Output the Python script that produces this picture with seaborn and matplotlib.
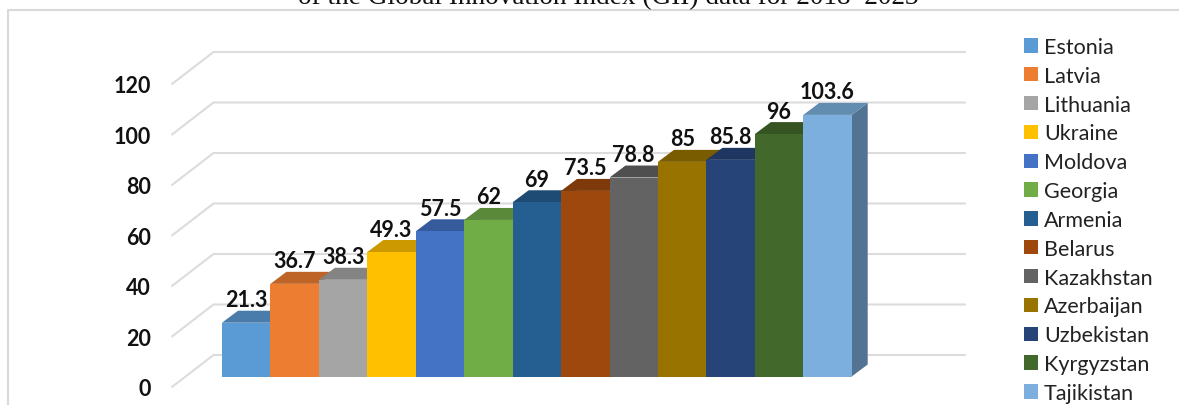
import matplotlib
matplotlib.use("Agg")
import matplotlib.pyplot as plt
import matplotlib.colors as mc
from matplotlib.lines import Line2D
from matplotlib.transforms import ScaledTranslation
import seaborn as sns
import pandas as pd

countries = ["Estonia", "Latvia", "Lithuania", "Ukraine", "Moldova", "Georgia", "Armenia",
             "Belarus", "Kazakhstan", "Azerbaijan", "Uzbekistan", "Kyrgyzstan", "Tajikistan"]
values = [21.3, 36.7, 38.3, 49.3, 57.5, 62, 69, 73.5, 78.8, 85, 85.8, 96, 103.6]
colors = ["#5B9BD5", "#ED7D31", "#A5A5A5", "#FFC000", "#4472C4", "#70AD47", "#255E91",
          "#9E480E", "#636363", "#997300", "#264478", "#43682B", "#7CAFDD"]
y_ticks = [0, 20, 40, 60, 80, 100, 120]
title = "of the Global Innovation Index (GII) data for 2018\u20132023"

W, H = 1179, 406
sns.set_theme(style="white")
plt.rcParams["font.family"] = ["Lato", "DejaVu Sans"]
fig = plt.figure(figsize=(W / 100, H / 100), dpi=100)

# Axes box in pixels: the front plane of the bars
left, right, base, ppu = 222.0, 851.7, 377.5, 2.525
ymax = 140
ax = fig.add_axes([left / W, (H - base) / H, (right - left) / W, ymax * ppu / H])

df = pd.DataFrame({"country": countries, "value": values})
sns.barplot(data=df, x="country", y="value", hue="country", palette=colors, width=1,
            dodge=False, legend=True, saturation=1, order=countries, hue_order=countries,
            ax=ax, zorder=3, linewidth=0)
ax.set_xlim(-0.5, 12.5)
ax.set_ylim(0, ymax)
ax.set_xlabel("")
ax.set_ylabel("")
ax.set_xticks([])
sns.despine(ax=ax, left=True, bottom=True)
ax.patch.set_alpha(0)

# Pseudo-3D depth, converted from pixels to data units
ppx = (right - left) / 13
DX, DY = 16 / ppx, 12 / ppu


def shade(c, f):
    r, g, b = mc.to_rgb(c)
    return (r * f, g * f, b * f)


for i, (v, c) in enumerate(zip(values, colors)):
    ax.fill([i - .5, i + .5, i + .5 + DX, i - .5 + DX], [v, v, v + DY, v + DY],
            color=shade(c, 0.8), lw=0, zorder=2 + i * 0.01, clip_on=False)
last, lv = len(values) - 1, values[-1]
ax.fill([last + .5, last + .5 + DX, last + .5 + DX, last + .5], [0, DY, lv + DY, lv],
        color=shade(colors[-1], 0.66), lw=0, zorder=2, clip_on=False)

# Gridlines: floor/side wall edge followed by the back wall
gx0, gx1, gx2 = (172 - left) / ppx - .5, (213.5 - left) / ppx - .5, (965 - left) / ppx - .5
front, back = -10.5 / ppu, 21.5 / ppu
for t in y_ticks:
    ax.plot([gx0, gx1, gx2], [t + front, t + back, t + back], color="#dcdcdc", lw=1.5,
            zorder=1, clip_on=False, solid_joinstyle="miter")

# Tick labels sit beside the front edge of the side wall
ax.set_yticks(y_ticks)
ax.tick_params(axis="y", length=0, pad=51)
off = ScaledTranslation(0, -10.5 / 100, fig.dpi_scale_trans)
for lab in ax.get_yticklabels():
    lab.set_fontweight("bold")
    lab.set_fontsize(15.5)
    lab.set_color("#111111")
    lab.set_transform(lab.get_transform() + off)

for cont in ax.containers:
    ax.bar_label(cont, fmt="%g", padding=9, fontsize=15.5, fontweight="bold", color="#111111", zorder=5)

ax.legend(loc="upper left", bbox_to_anchor=(1024 / W, 1 - 38 / H), bbox_transform=fig.transFigure,
          frameon=False, fontsize=15.5, labelspacing=0.41, handlelength=0.65, handleheight=0.65,
          handletextpad=0.28, borderpad=0, borderaxespad=0, labelcolor="#222222")

# Chart frame and clipped title line
fig.add_artist(Line2D([8 / W, 8 / W, 1], [0, 1 - 10.5 / H, 1 - 10.5 / H], color="#d9d9d9", lw=1.5))
fig.text(608 / W, 1 - 4 / H, title, family=["Liberation Serif", "DejaVu Serif"], fontsize=19.6,
         ha="center", va="baseline", color="#111111")

fig.savefig("out.png", dpi=100)
